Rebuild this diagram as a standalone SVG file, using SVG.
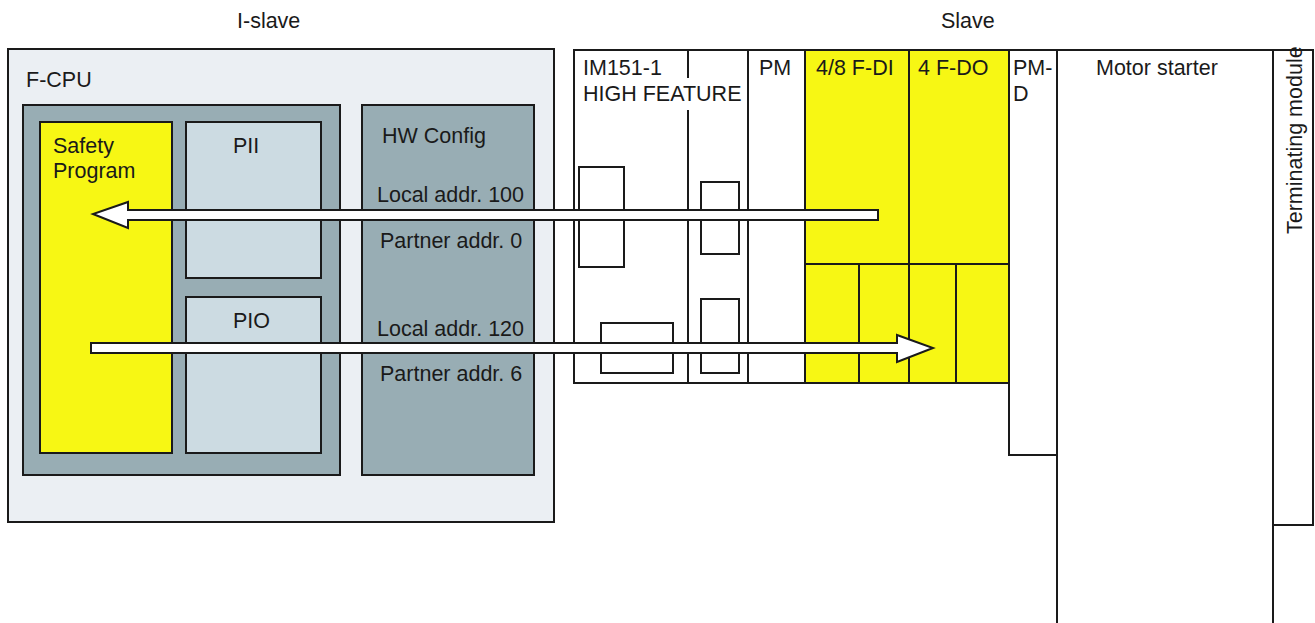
<svg xmlns="http://www.w3.org/2000/svg" width="1315" height="623" viewBox="0 0 1315 623">
<style>
text{font-family:"Liberation Sans",Arial,sans-serif;font-size:21.5px;fill:#1a1a1a}
.b{stroke:#1a1a1a;stroke-width:2}
.outer{fill:#ebeff3}
.gray{fill:#98adb4}
.light{fill:#ccdbe2}
.yel{fill:#f7f714}
.wh{fill:#ffffff}
.ln{stroke:#1a1a1a;stroke-width:2;fill:none}
.arr{fill:#ffffff;stroke:#1a1a1a;stroke-width:2;stroke-linejoin:miter}
</style>
<rect width="1315" height="623" fill="#ffffff"/>
<text x="237" y="28">I-slave</text>
<text x="941" y="28">Slave</text>

<g id="islave">
<rect class="b outer" x="8" y="49" width="546" height="473"/>
<text x="26" y="87">F-CPU</text>
</g>
<g id="fcpu">
<rect class="b gray" x="23" y="105" width="317" height="370"/>
</g>
<g id="safety">
<rect class="b yel" x="40" y="122" width="132" height="331"/>
<text x="53" y="153">Safety</text>
<text x="53" y="178">Program</text>
</g>
<g id="pii">
<rect class="b light" x="186" y="122" width="135" height="156"/>
<text x="233" y="153">PII</text>
</g>
<g id="pio">
<rect class="b light" x="186" y="297" width="135" height="156"/>
<text x="233" y="328">PIO</text>
</g>
<g id="hwconfig">
<rect class="b gray" x="362" y="105" width="172" height="370"/>
<text x="382" y="143">HW Config</text>
<text x="377" y="202">Local addr. 100</text>
<text x="380" y="248">Partner addr. 0</text>
<text x="377" y="336">Local addr. 120</text>
<text x="380" y="381">Partner addr. 6</text>
</g>

<g id="im151">
<rect class="wh" x="574" y="50" width="174" height="333"/>
<path class="ln" d="M688 78 V50 H574 V383 H688 V110"/>
<rect class="b wh" x="579" y="167" width="45" height="100"/>
<rect class="b wh" x="601" y="323" width="72" height="50"/>
<text x="583" y="75">IM151-1</text>
</g>
<g id="module2">
<path class="ln" d="M688 50 H748 V383 H688"/>
<rect class="b wh" x="701" y="182" width="38" height="72"/>
<rect class="b wh" x="701" y="299" width="38" height="74"/>
<text x="583" y="101">HIGH FEATURE</text>
</g>
<g id="pm">
<rect class="b wh" x="748" y="50" width="57" height="333"/>
<text x="759" y="75">PM</text>
</g>
<g id="fdi">
<rect class="b yel" x="805" y="50" width="104" height="214"/>
<rect class="b yel" x="805" y="264" width="54" height="119"/>
<rect class="b yel" x="859" y="264" width="50" height="119"/>
<text x="816" y="75">4/8 F-DI</text>
</g>
<g id="fdo">
<rect class="b yel" x="909" y="50" width="100" height="214"/>
<rect class="b yel" x="909" y="264" width="47" height="119"/>
<rect class="b yel" x="956" y="264" width="53" height="119"/>
<text x="918" y="75">4 F-DO</text>
</g>
<g id="pmd">
<rect class="b wh" x="1009" y="50" width="48" height="405"/>
<text x="1013" y="75">PM-</text>
<text x="1013" y="101">D</text>
</g>
<g id="motorstarter">
<rect class="b wh" x="1057" y="50" width="216" height="580"/>
<text x="1096" y="75">Motor starter</text>
</g>
<g id="terminating">
<rect class="b wh" x="1273" y="50" width="40" height="475"/>
<line class="ln" x1="1273" y1="525" x2="1273" y2="630"/>
<text transform="translate(1302 234) rotate(-90)">Terminating module</text>
</g>

<g id="connectors">
<polygon class="arr" points="878,210 128,210 128,202 93,214 128,228 128,220 878,220"/>
<polygon class="arr" points="91,343 897,343 897,335 933,348 897,362 897,353 91,353"/>
</g>
</svg>
